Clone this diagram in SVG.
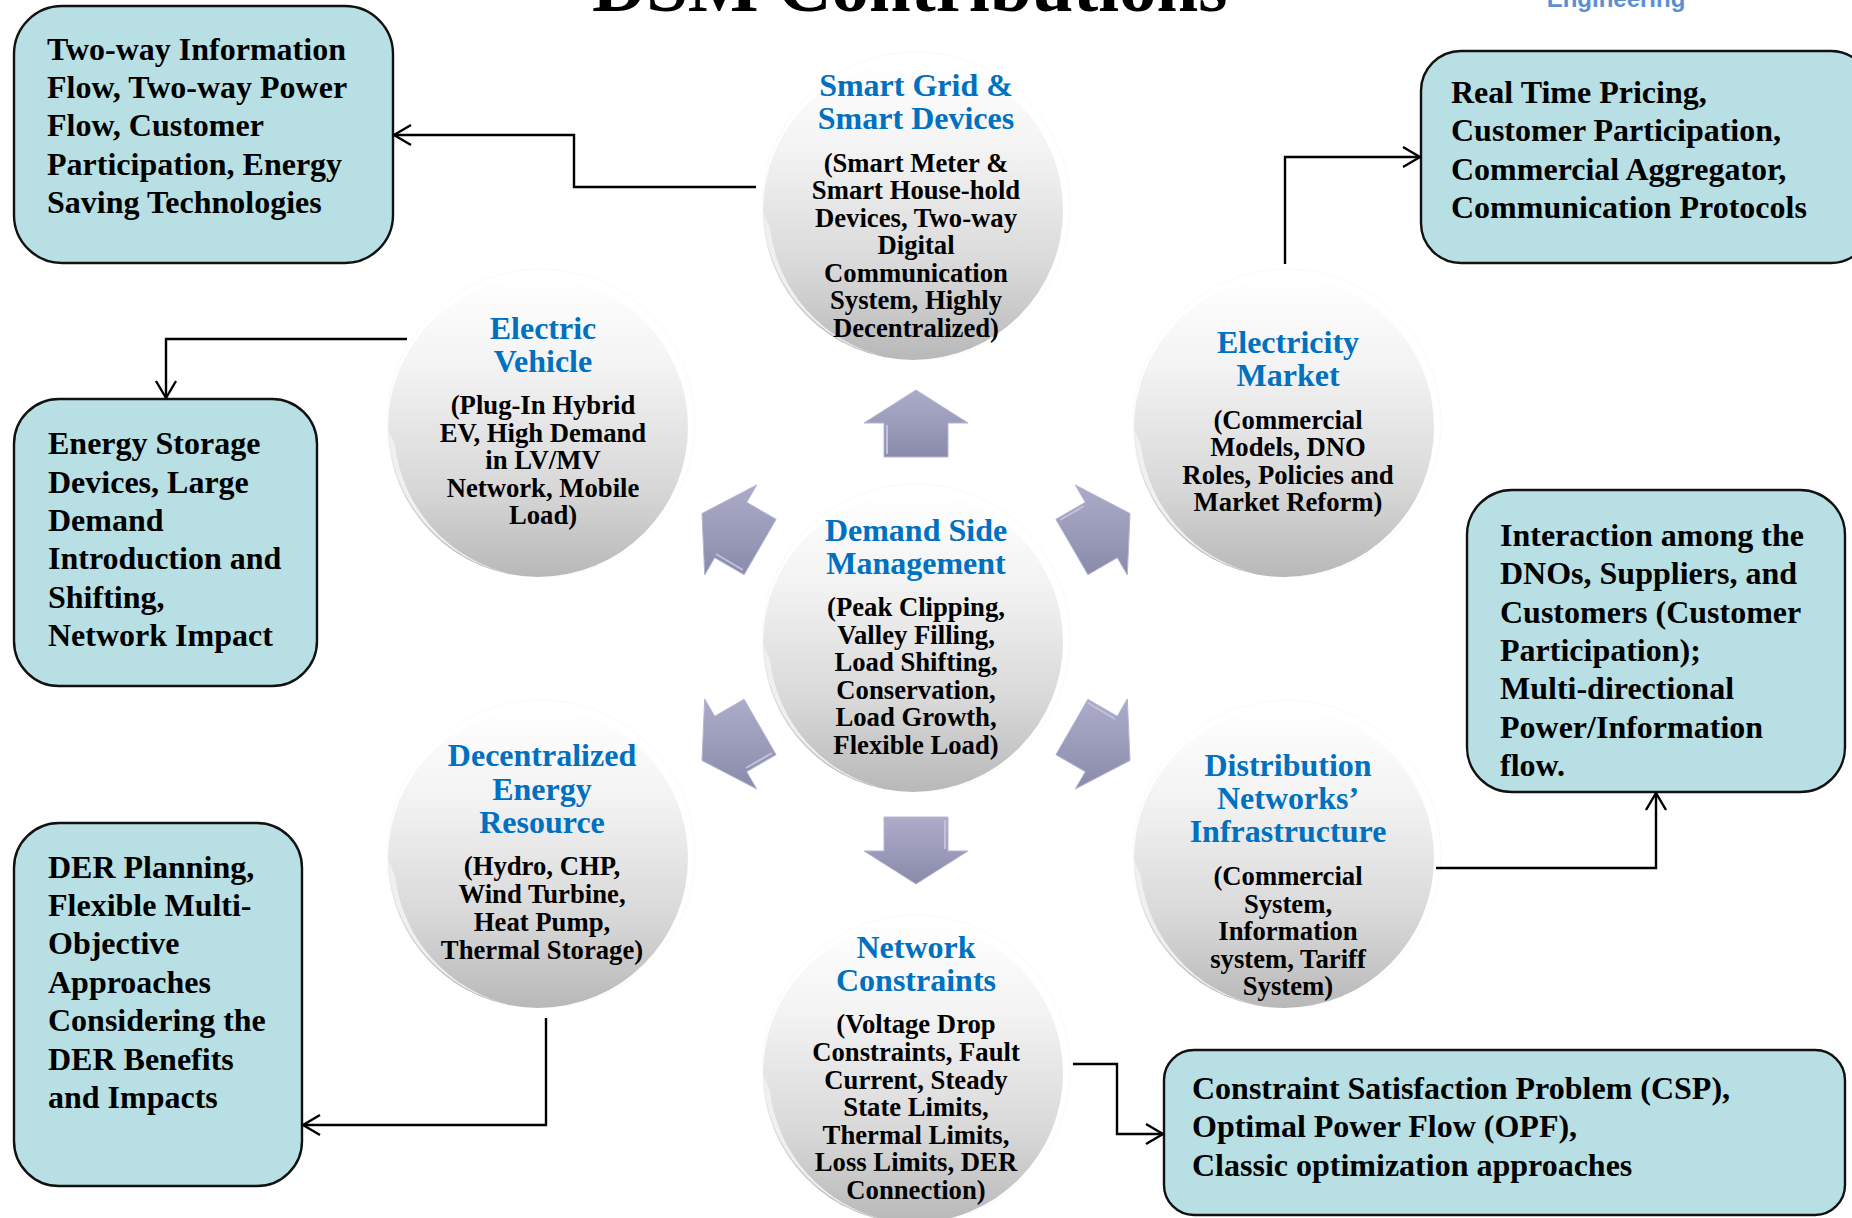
<svg xmlns="http://www.w3.org/2000/svg" xmlns:xlink="http://www.w3.org/1999/xlink" width="1852" height="1218" viewBox="0 0 1852 1218">
<style>
text{font-family:"Liberation Serif","Times New Roman",serif;font-weight:700;fill:#000}
.title{font-size:75px}
.eng{font-family:"Liberation Sans",Arial,sans-serif;font-size:24px;fill:#5b8fd0;text-anchor:middle}
.head{font-size:32px;fill:#0070c0;text-anchor:middle}
.body{font-size:26.7px;text-anchor:middle;transform:translateY(1px)}
.box{fill:#b8dfe3;stroke:#111;stroke-width:2.4}
.lbl{font-size:32px}
.conn{fill:none;stroke:#000;stroke-width:2.4;marker-end:url(#open)}
.arrow{fill:url(#blk);stroke:#b4b4d4;stroke-width:1}
.bevel{fill:none;stroke:#c2c2dc;stroke-width:2}
</style>
<defs>
<linearGradient id="disc" x1="0" y1="0" x2="0" y2="1"><stop offset="0" stop-color="#ffffff"/><stop offset=".3" stop-color="#f3f3f3"/><stop offset=".7" stop-color="#d8d8d8"/><stop offset="1" stop-color="#b8b8b8"/></linearGradient>
<linearGradient id="blk" x1="0" y1="0" x2="0" y2="1"><stop offset="0" stop-color="#acacca"/><stop offset="1" stop-color="#8a8aaa"/></linearGradient>
<marker id="open" markerUnits="userSpaceOnUse" markerWidth="24" markerHeight="24" refX="20" refY="12" orient="auto"><path d="M3 2L20 12L3 22" fill="none" stroke="#000" stroke-width="2.4"/></marker>
<g id="ball">
<circle r="154" fill="#ffffff" stroke="#f9f9f9" stroke-width="1"/>
<circle cx="-3" cy="4" r="150" fill="url(#disc)"/>
<path d="M-153 6A154 154 0 0 0 -30 151A150 150 0 0 1 -146 22Z" fill="#f0f0f0"/>
</g>
</defs>
<rect width="1852" height="1218" fill="#fff"/>
<text class="title" x="592" y="11">DSM Contributions</text>
<text class="eng" x="1616" y="7">Engineering</text>

<g id="arrows">
<polygon class="arrow" points="916,390 968,423 948,423 948,457 884,457 884,423 864,423"/><path class="bevel" d="M887 425V454"/>
<polygon class="arrow" points="1130,513.5 1127.3,575 1117.3,557.7 1087.9,574.7 1055.9,519.3 1085.3,502.3 1075.3,485"/><path class="bevel" d="M1084 506L1060 520"/>
<polygon class="arrow" points="1130,760.5 1075.3,789 1085.3,771.7 1055.9,754.7 1087.9,699.3 1117.3,716.3 1127.3,699"/><path class="bevel" d="M1088 703L1115 719"/>
<polygon class="arrow" points="916,884 968,851 948,851 948,817 884,817 884,851 864,851"/><path class="bevel" d="M945 820V849"/>
<polygon class="arrow" points="702,760.5 756.7,789 746.7,771.7 776.1,754.7 744.1,699.3 714.7,716.3 704.7,699"/><path class="bevel" d="M746 768L772 753"/>
<polygon class="arrow" points="702,513.5 704.7,575 714.7,557.7 744.1,574.7 776.1,519.3 746.7,502.3 756.7,485"/><path class="bevel" d="M716 554L743 570"/>
</g>

<g id="node-dsm"><use xlink:href="#ball" href="#ball" x="916" y="638"/>
<text class="head"><tspan x="916" y="541">Demand Side</tspan><tspan x="916" y="574">Management</tspan></text>
<text class="body"><tspan x="916" y="615">(Peak Clipping,</tspan><tspan x="916" y="643">Valley Filling,</tspan><tspan x="916" y="670">Load Shifting,</tspan><tspan x="916" y="698">Conservation,</tspan><tspan x="916" y="725">Load Growth,</tspan><tspan x="916" y="753">Flexible Load)</tspan></text></g>

<g id="node-smart-grid"><use xlink:href="#ball" href="#ball" x="916" y="206"/>
<text class="head"><tspan x="916" y="96">Smart Grid &amp;</tspan><tspan x="916" y="129">Smart Devices</tspan></text>
<text class="body"><tspan x="916" y="171">(Smart Meter &amp;</tspan><tspan x="916" y="198">Smart House-hold</tspan><tspan x="916" y="226">Devices, Two-way</tspan><tspan x="916" y="253">Digital</tspan><tspan x="916" y="281">Communication</tspan><tspan x="916" y="308">System, Highly</tspan><tspan x="916" y="336">Decentralized)</tspan></text></g>

<g id="node-ev"><use xlink:href="#ball" href="#ball" x="541" y="423"/>
<text class="head"><tspan x="543" y="339">Electric</tspan><tspan x="543" y="372">Vehicle</tspan></text>
<text class="body"><tspan x="543" y="413">(Plug-In Hybrid</tspan><tspan x="543" y="441">EV, High Demand</tspan><tspan x="543" y="468">in LV/MV</tspan><tspan x="543" y="496">Network, Mobile</tspan><tspan x="543" y="523">Load)</tspan></text></g>

<g id="node-market"><use xlink:href="#ball" href="#ball" x="1287" y="423"/>
<text class="head"><tspan x="1288" y="353">Electricity</tspan><tspan x="1288" y="386">Market</tspan></text>
<text class="body"><tspan x="1288" y="428">(Commercial</tspan><tspan x="1288" y="455">Models, DNO</tspan><tspan x="1288" y="483">Roles, Policies and</tspan><tspan x="1288" y="510">Market Reform)</tspan></text></g>

<g id="node-der"><use xlink:href="#ball" href="#ball" x="541" y="854"/>
<text class="head"><tspan x="542" y="766">Decentralized</tspan><tspan x="542" y="800">Energy</tspan><tspan x="542" y="833">Resource</tspan></text>
<text class="body"><tspan x="542" y="874">(Hydro, CHP,</tspan><tspan x="542" y="902">Wind Turbine,</tspan><tspan x="542" y="930">Heat Pump,</tspan><tspan x="542" y="958">Thermal Storage)</tspan></text></g>

<g id="node-networks"><use xlink:href="#ball" href="#ball" x="1287" y="854"/>
<text class="head"><tspan x="1288" y="776">Distribution</tspan><tspan x="1288" y="809">Networks’</tspan><tspan x="1288" y="842">Infrastructure</tspan></text>
<text class="body"><tspan x="1288" y="884">(Commercial</tspan><tspan x="1288" y="912">System,</tspan><tspan x="1288" y="939">Information</tspan><tspan x="1288" y="967">system, Tariff</tspan><tspan x="1288" y="994">System)</tspan></text></g>

<g id="node-constraints"><use xlink:href="#ball" href="#ball" x="916" y="1069"/>
<text class="head"><tspan x="916" y="958">Network</tspan><tspan x="916" y="991">Constraints</tspan></text>
<text class="body"><tspan x="916" y="1032">(Voltage Drop</tspan><tspan x="916" y="1060">Constraints, Fault</tspan><tspan x="916" y="1088">Current, Steady</tspan><tspan x="916" y="1115">State Limits,</tspan><tspan x="916" y="1143">Thermal Limits,</tspan><tspan x="916" y="1170">Loss Limits, DER</tspan><tspan x="916" y="1198">Connection)</tspan></text></g>

<g id="box-smart-grid"><rect class="box" x="14" y="6" width="379" height="257" rx="48"/>
<text class="lbl"><tspan x="47" y="60">Two-way Information</tspan><tspan x="47" y="98">Flow, Two-way Power</tspan><tspan x="47" y="136">Flow, Customer</tspan><tspan x="47" y="175">Participation, Energy</tspan><tspan x="47" y="213">Saving Technologies</tspan></text></g>

<g id="box-market"><rect class="box" x="1421" y="51" width="450" height="212" rx="40"/>
<text class="lbl"><tspan x="1451" y="103">Real Time Pricing,</tspan><tspan x="1451" y="141">Customer Participation,</tspan><tspan x="1451" y="180">Commercial Aggregator,</tspan><tspan x="1451" y="218">Communication Protocols</tspan></text></g>

<g id="box-ev"><rect class="box" x="14" y="399" width="303" height="287" rx="45"/>
<text class="lbl"><tspan x="48" y="454">Energy Storage</tspan><tspan x="48" y="493">Devices, Large</tspan><tspan x="48" y="531">Demand</tspan><tspan x="48" y="569">Introduction and</tspan><tspan x="48" y="608">Shifting,</tspan><tspan x="48" y="646">Network Impact</tspan></text></g>

<g id="box-der"><rect class="box" x="14" y="823" width="288" height="363" rx="45"/>
<text class="lbl"><tspan x="48" y="878">DER Planning,</tspan><tspan x="48" y="916">Flexible Multi-</tspan><tspan x="48" y="954">Objective</tspan><tspan x="48" y="993">Approaches</tspan><tspan x="48" y="1031">Considering the</tspan><tspan x="48" y="1070">DER Benefits</tspan><tspan x="48" y="1108">and Impacts</tspan></text></g>

<g id="box-networks"><rect class="box" x="1467" y="490" width="378" height="302" rx="45"/>
<text class="lbl"><tspan x="1500" y="546">Interaction among the</tspan><tspan x="1500" y="584">DNOs, Suppliers, and</tspan><tspan x="1500" y="623">Customers (Customer</tspan><tspan x="1500" y="661">Participation);</tspan><tspan x="1500" y="699">Multi-directional</tspan><tspan x="1500" y="738">Power/Information</tspan><tspan x="1500" y="776">flow.</tspan></text></g>

<g id="box-constraints"><rect class="box" x="1164" y="1050" width="681" height="165" rx="30"/>
<text class="lbl"><tspan x="1192" y="1099">Constraint Satisfaction Problem (CSP),</tspan><tspan x="1192" y="1137">Optimal Power Flow (OPF),</tspan><tspan x="1192" y="1176">Classic optimization approaches</tspan></text></g>

<g id="connectors">
<path class="conn" d="M756 187H574V135H394"/>
<path class="conn" d="M1285 264V157H1420"/>
<path class="conn" d="M407 339H166V398"/>
<path class="conn" d="M546 1018V1125H303"/>
<path class="conn" d="M1436 868H1656V793"/>
<path class="conn" d="M1073 1064H1117V1134H1163"/>
</g>
</svg>
